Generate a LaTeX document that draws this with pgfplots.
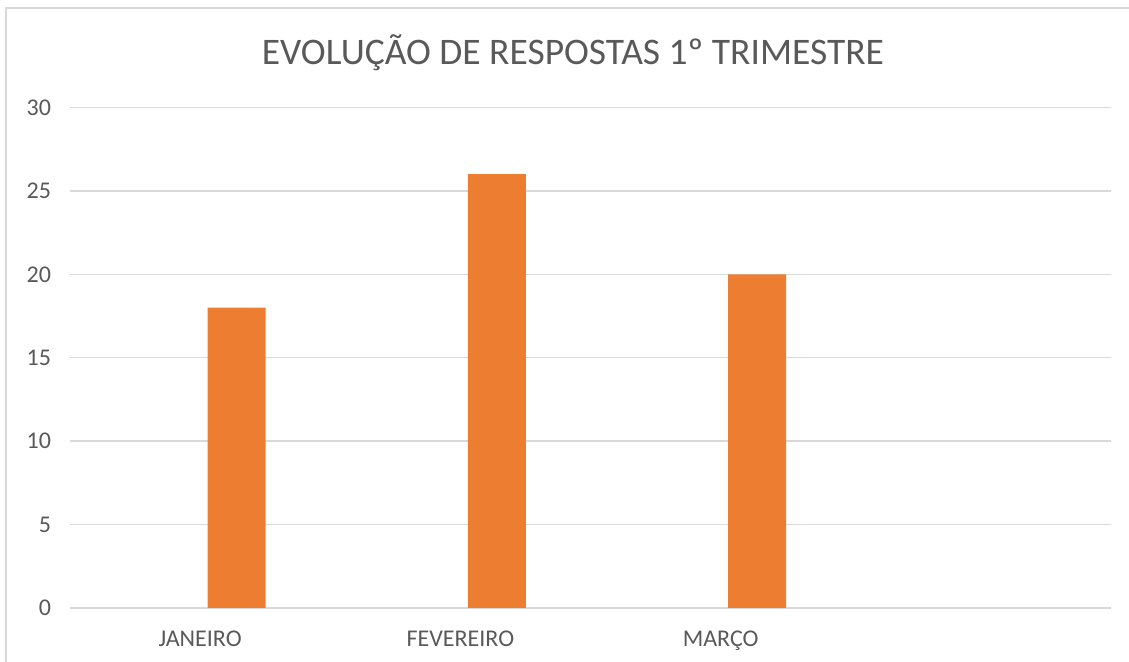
\documentclass[border=0pt]{standalone}
\usepackage{pgfplots}
\pgfplotsset{compat=1.18}
\usepackage{fontspec}
\setmainfont{Carlito}
\definecolor{txtgray}{HTML}{595959}
\definecolor{gridgray}{HTML}{D9D9D9}
\definecolor{barorange}{HTML}{ED7D31}
\begin{document}
\begin{tikzpicture}[x=0.5pt,y=0.5pt]
\useasboundingbox (-70,-54) rectangle (1059,608);
\draw[gridgray, line width=1pt] (-64,-56) -- (-64,600) -- (1061,600);
\node[txtgray, anchor=base, font=\fontsize{18.75}{22}\selectfont, inner sep=0pt] at (503,543) {EVOLUÇÃO DE RESPOSTAS 1º TRIMESTRE};
\begin{axis}[
  scale only axis, width=520.5pt, height=250.25pt,
  xmin=-0.5, xmax=3.5, ymin=0, ymax=30,
  ytick={0,5,...,30},
  xtick={0,1,2}, xticklabels={JANEIRO,FEVEREIRO,MARÇO},
  ymajorgrids, grid style={gridgray, line width=0.75pt},
  axis line style={draw=none},
  major tick length=0pt,
  tick style={draw=none},
  /pgf/number format/assume math mode=true,
  ticklabel style={font=\fontsize{12}{14}\selectfont, text=txtgray},
  yticklabel style={anchor=east, xshift=-6pt},
  xticklabel style={anchor=north, yshift=-7.8pt},
]
\addplot[ybar, bar width=0.223, bar shift=0.14, fill=barorange, draw=none]
  coordinates {(0,18) (1,26) (2,20)};
\end{axis}
\end{tikzpicture}
\end{document}
